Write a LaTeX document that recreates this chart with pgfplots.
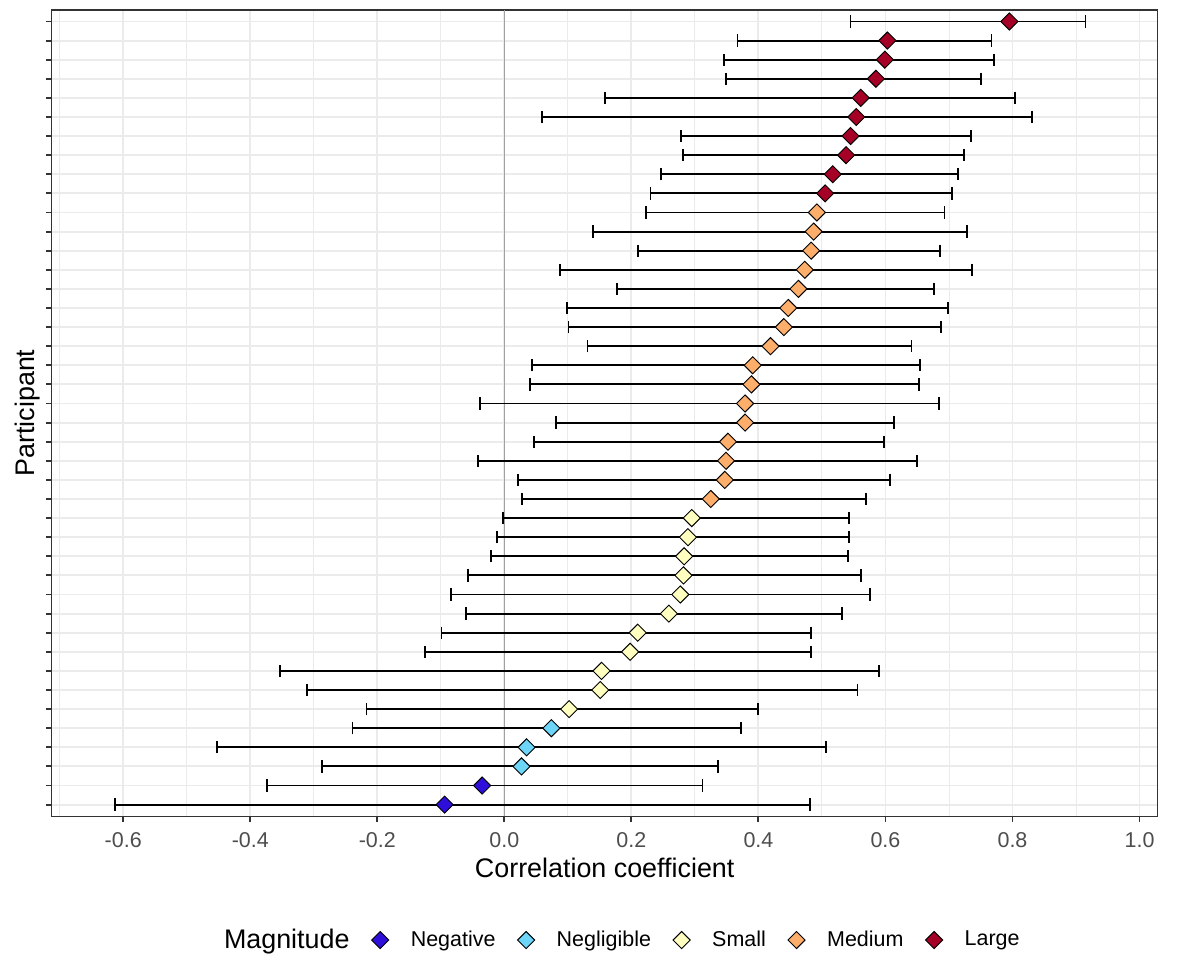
\documentclass[border=0pt]{standalone}
\usepackage{fontspec}
\setmainfont{Liberation Sans}
\usepackage{pgfplots}
\pgfplotsset{compat=1.18}
\usepackage{pgfplotstable}

\definecolor{cNeg}{HTML}{2E0FDA}
\definecolor{cNgl}{HTML}{6DD5F8}
\definecolor{cSml}{HTML}{FFFFBF}
\definecolor{cMed}{HTML}{FDAE6B}
\definecolor{cLrg}{HTML}{A50026}
\definecolor{gridc}{HTML}{EBEBEB}
\definecolor{axc}{HTML}{333333}
\definecolor{tickc}{HTML}{4D4D4D}
\definecolor{zeroc}{HTML}{A0A0A0}

\pgfplotstableread{
y x lo hi
2 -0.035 -0.374 0.312
1 -0.094 -0.613 0.481
}\negtab

\pgfplotstableread{
y x lo hi
5 0.074 -0.239 0.373
4 0.035 -0.453 0.507
3 0.027 -0.287 0.336
}\ngltab

\pgfplotstableread{
y x lo hi
16 0.295 -0.002 0.543
15 0.289 -0.011 0.542
14 0.283 -0.021 0.541
13 0.282 -0.057 0.562
12 0.277 -0.084 0.575
11 0.259 -0.061 0.531
10 0.210 -0.099 0.483
9 0.198 -0.125 0.483
8 0.153 -0.353 0.590
7 0.151 -0.311 0.556
6 0.102 -0.217 0.400
}\smltab

\pgfplotstableread{
y x lo hi
32 0.492 0.223 0.693
31 0.487 0.140 0.728
30 0.483 0.210 0.686
29 0.473 0.088 0.736
28 0.463 0.178 0.677
27 0.447 0.098 0.699
26 0.440 0.101 0.687
25 0.419 0.131 0.641
24 0.391 0.043 0.654
23 0.389 0.041 0.653
22 0.379 -0.039 0.684
21 0.379 0.081 0.614
20 0.352 0.046 0.598
19 0.349 -0.042 0.650
18 0.347 0.022 0.607
17 0.325 0.028 0.569
}\medtab

\pgfplotstableread{
y x lo hi
42 0.795 0.545 0.915
41 0.603 0.367 0.767
40 0.599 0.346 0.771
39 0.585 0.349 0.751
38 0.561 0.158 0.804
37 0.554 0.059 0.831
36 0.545 0.278 0.734
35 0.538 0.281 0.723
34 0.517 0.246 0.714
33 0.505 0.230 0.705
}\lrgtab

\pgfplotsset{
  diam/.style={only marks, mark=square*, mark size=2.9pt,
    mark options={rotate=45, fill=#1, draw=black, line width=0.45pt},
    error bars/.cd, x dir=both, x explicit,
    error bar style={black, line width=0.9pt},
    error mark options={black, line width=0.9pt, mark size=2.95pt, rotate=90}},
}

\begin{document}
\begin{tikzpicture}
\useasboundingbox (-24.7pt,-67.2pt) rectangle (543.6pt,391.7pt);
\begin{axis}[
  at={(0,0)}, anchor=south west,
  width=531.1pt, height=386.9pt, scale only axis,
  xmin=-0.713, xmax=1.029, ymin=0.4, ymax=42.6,
  xtick={-0.6,-0.4,-0.2,0,0.2,0.4,0.6,0.8,1.0},
  xticklabels={-0.6,-0.4,-0.2,0.0,0.2,0.4,0.6,0.8,1.0},
  minor xtick={-0.7,-0.5,-0.3,-0.1,0.1,0.3,0.5,0.7,0.9},
  ytick={1,...,42}, yticklabels={},
  xtick pos=bottom, ytick pos=left,
  xmajorgrids, xminorgrids, ymajorgrids,
  major grid style={gridc, line width=0.9pt},
  minor grid style={gridc, line width=0.45pt},
  tick align=outside, major tick length=2.64pt, minor tick length=0pt,
  tick style={axc, line width=0.9pt},
  axis line style={axc, line width=0.5pt},
  xticklabel style={font=\fontsize{10.3}{12}\selectfont, text=tickc, anchor=center, yshift=-8.9pt},
  xlabel={Correlation coefficient}, ylabel={Participant},
  label style={font=\fontsize{12.9}{15}\selectfont},
  xlabel style={at={(axis description cs:0.5,0)}, anchor=center, yshift=-24.7pt},
  ylabel style={at={(axis description cs:0,0.5)}, anchor=center, yshift=11.3pt},
  legend columns=-1,
  legend style={at={(0.136,-0.1538)}, anchor=west, draw=none, fill=none,
    inner sep=0pt, outer sep=0pt, font=\fontsize{10.3}{12}\selectfont,
    nodes={inner sep=0pt},
    /tikz/every odd column/.append style={column sep=10.6pt},
    /tikz/every even column/.append style={column sep=10.6pt}},
  legend image code/.code={\draw[#1] plot coordinates {(0pt,0pt)};},
]
\addplot[forget plot, zeroc, line width=0.75pt] coordinates {(0,0.4) (0,42.6)};
\addlegendimage{empty legend}
\addlegendentry{\fontsize{12.9}{15}\selectfont Magnitude}
\addplot[diam=cNeg] table[x=x, y=y, x error plus expr=\thisrow{hi}-\thisrow{x}, x error minus expr=\thisrow{x}-\thisrow{lo}] {\negtab};
\addlegendentry{Negative}
\addplot[diam=cNgl] table[x=x, y=y, x error plus expr=\thisrow{hi}-\thisrow{x}, x error minus expr=\thisrow{x}-\thisrow{lo}] {\ngltab};
\addlegendentry{Negligible}
\addplot[diam=cSml] table[x=x, y=y, x error plus expr=\thisrow{hi}-\thisrow{x}, x error minus expr=\thisrow{x}-\thisrow{lo}] {\smltab};
\addlegendentry{Small}
\addplot[diam=cMed] table[x=x, y=y, x error plus expr=\thisrow{hi}-\thisrow{x}, x error minus expr=\thisrow{x}-\thisrow{lo}] {\medtab};
\addlegendentry{Medium}
\addplot[diam=cLrg] table[x=x, y=y, x error plus expr=\thisrow{hi}-\thisrow{x}, x error minus expr=\thisrow{x}-\thisrow{lo}] {\lrgtab};
\addlegendentry{Large}
\end{axis}
\end{tikzpicture}
\end{document}
